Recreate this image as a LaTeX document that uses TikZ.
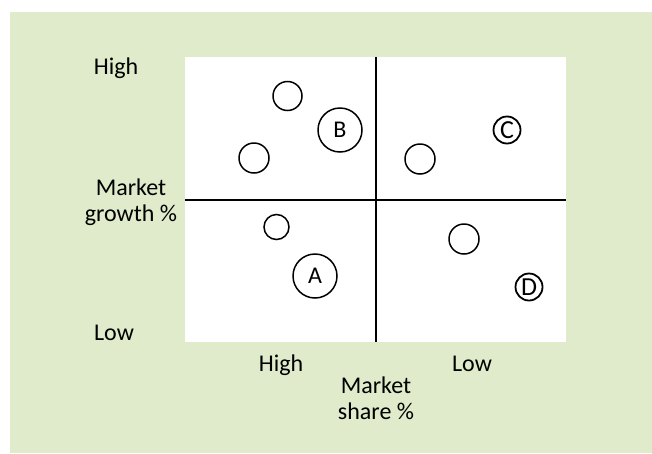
\documentclass[tikz,border=0pt]{standalone}
\usepackage{fontspec}
\setmainfont{Carlito}
\definecolor{bggreen}{RGB}{223,235,202}

\begin{document}
\begin{tikzpicture}[x=1pt,y=-1pt,inner sep=0pt,
  lbl/.style={font=\fontsize{24}{26}\selectfont,align=center,anchor=base},
  unit/.style={circle,draw,line width=1.5pt,minimum size=#1,font=\fontsize{24}{26}\selectfont},
  small/.style={unit=#1,font=\fontsize{26}{26}\selectfont,line width=1.8pt}]

	\useasboundingbox (0,0) rectangle (652,453);
	\fill[white] (0,0) rectangle (652,453);
	\fill[bggreen] (10,12) rectangle (652,453);
	\fill[white] (185,57) rectangle (566,342);
	
	% axes
	\coordinate (top) at (376,57);
	\coordinate (bottom) at (376,342);
	\coordinate (left) at (185,200);
	\coordinate (right) at (566,200);
	\draw[line width=1.3pt] (top) -- (bottom);
	\draw[line width=1.3pt] (left) -- (right);
	
	% labels
	\node at (116,74) [lbl] (ghigh) {High};
	\node at (131,221) [lbl] (gname) {Market\\growth \%};
	\node at (114,340) [lbl] (glow) {Low};
	\node at (281,371) [lbl] (shigh) {High};
	\node at (472,371) [lbl] (slow) {Low};
	\node at (376,419) [lbl] (sname) {Market\\share \%};
	
	% units
	\node at (287.5,96) [unit=29] (u1) {};
	\node at (340,130) [unit=44] (uB) {B};
	\node at (254,158) [unit=30] (u3) {};
	\node at (507,130) [small=27] (uC) {C};
	\node at (420,159) [unit=30] (u5) {};
	\node at (276.5,227) [unit=25] (u6) {};
	\node at (315,276) [unit=44] (uA) {A};
	\node at (464,239) [unit=30] (u8) {};
	\node at (529,287) [small=27] (uD) {D};
	
\end{tikzpicture}
\end{document}
